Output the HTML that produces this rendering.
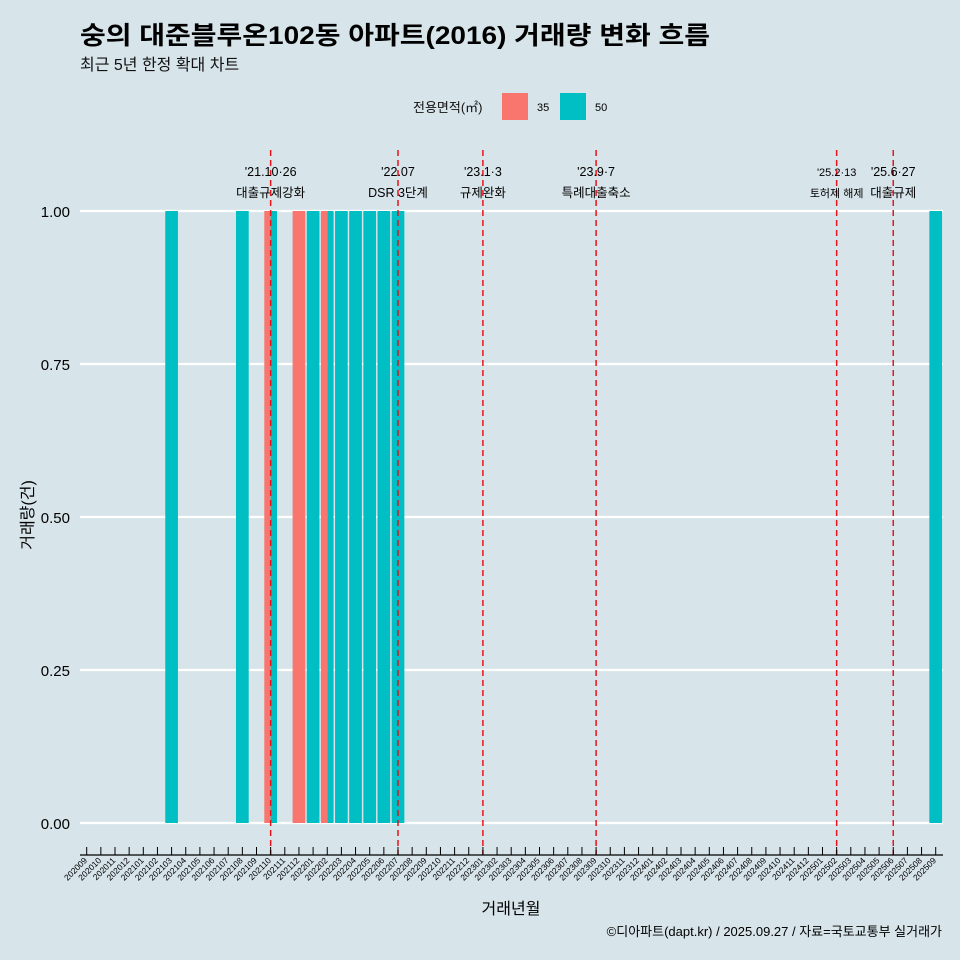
<!DOCTYPE html>
<html><head><meta charset="utf-8"><style>
html,body{margin:0;padding:0;overflow:hidden;width:960px;height:960px;background:#d7e4ea;font-family:"Liberation Sans","Noto Sans CJK KR",sans-serif;}
svg{display:block}
</style></head><body>
<svg width="960" height="960" xmlns="http://www.w3.org/2000/svg" style="font-family:'Liberation Sans','Noto Sans CJK KR',sans-serif">
<rect width="960" height="960" fill="#d7e4ea"/>
<text x="80" y="44" font-size="25" font-weight="bold" fill="#000" textLength="630" lengthAdjust="spacingAndGlyphs">숭의 대준블루온102동 아파트(2016) 거래량 변화 흐름</text>
<text x="80" y="70" font-size="16" fill="#111">최근 5년 한정 확대 차트</text>
<g>
<text x="413" y="112" font-size="13" fill="#111">전용면적(㎡)</text>
<rect x="502" y="93" width="26" height="27" fill="#f8766d"/>
<text x="537" y="111" font-size="11">35</text>
<rect x="560" y="93" width="26" height="27" fill="#00bfc4"/>
<text x="595" y="111" font-size="11">50</text>
</g>
<g id="grid"></g><g id="bars"></g><g id="vlines"></g><g id="xaxis"></g><g id="yaxis"></g>
<text transform="translate(33,515) rotate(-90)" text-anchor="middle" font-size="16">거래량(건)</text>
<text x="511" y="914" text-anchor="middle" font-size="16">거래년월</text>
<text x="942" y="936" text-anchor="end" font-size="13">©디아파트(dapt.kr) / 2025.09.27 / 자료=국토교통부 실거래가</text>
</svg>
<script>
const months=[];for(let y=2020,m=9;y*100+m<=202509;){months.push(''+y+(m<10?'0':'')+m);m++;if(m>12){m=1;y++;}}
const barMonths=['202103','202108','202110','202110','202112','202201','202202','202202','202203','202204','202205','202206','202207','202509'];
const barAreas=['50','50','35','50','35','50','35','50','50','50','50','50','50','50'];
const barValues=[1,1,1,1,1,1,1,1,1,1,1,1,1,1];
const yTicks=[0,0.25,0.5,0.75,1];
const yTickLabels=['0.00','0.25','0.50','0.75','1.00'];
const eventMonths=['202110','202207','202301','202309','202502','202506'];
const eventLine1=["'21.10·26","'22.07","'23.1·3","'23.9·7","'25.2·13","'25.6·27"];
const eventLine2=['대출규제강화','DSR 3단계','규제완화','특례대출축소','토허제 해제','대출규제'];
const NS='http://www.w3.org/2000/svg';
const X=i=>86.7+14.15*i, Y=v=>823-612*v, BW=12.7;
function mk(t,a,p){const e=document.createElementNS(NS,t);for(const k in a)e.setAttribute(k,a[k]);p.appendChild(e);return e;}
const g=document.getElementById('grid');
yTicks.forEach((v,i)=>{const l=mk('line',{x1:80,x2:943,y1:Y(v),y2:Y(v),stroke:'#fff','stroke-width':2.2},g);


const t=mk('text',{x:70,y:Y(v)+6,'text-anchor':'end','font-size':15},document.getElementById('yaxis'));t.textContent=yTickLabels[i];

});
const b=document.getElementById('bars');
barMonths.forEach((m,i)=>{const idx=months.indexOf(m);const n=barMonths.filter(x=>x===m).length;
const k=barMonths.slice(0,i).filter(x=>x===m).length;const w=BW/n;const x0=X(idx)-BW/2+k*w;
const r=mk('rect',{x:x0,y:Y(barValues[i]),width:w,height:Y(0)-Y(barValues[i]),fill:barAreas[i]==='35'?'#f8766d':'#00bfc4'},b);

});
const xa=document.getElementById('xaxis');
const al=mk('line',{x1:80,x2:943,y1:855,y2:855,stroke:'#000','stroke-width':1.2},xa);


months.forEach((m,i)=>{mk('line',{x1:X(i),x2:X(i),y1:847,y2:855,stroke:'#000','stroke-width':1},xa);
const t=mk('text',{transform:`translate(${X(i)+1},861) rotate(-45)`,'text-anchor':'end','font-size':8.5},xa);t.textContent=m;

});
const vl=document.getElementById('vlines');
eventMonths.forEach((m,i)=>{const x=X(months.indexOf(m));
const l=mk('line',{x1:x,x2:x,y1:150,y2:855,stroke:'#e8141c','stroke-width':1.5,'stroke-dasharray':'6,4'},vl);


const fs=i===4?11:12.5;
const t1=mk('text',{x:x,y:176,'text-anchor':'middle','font-size':fs},vl);t1.textContent=eventLine1[i];


const t2=mk('text',{x:x,y:197,'text-anchor':'middle','font-size':fs},vl);t2.textContent=eventLine2[i];

});
</script>
</body></html>
